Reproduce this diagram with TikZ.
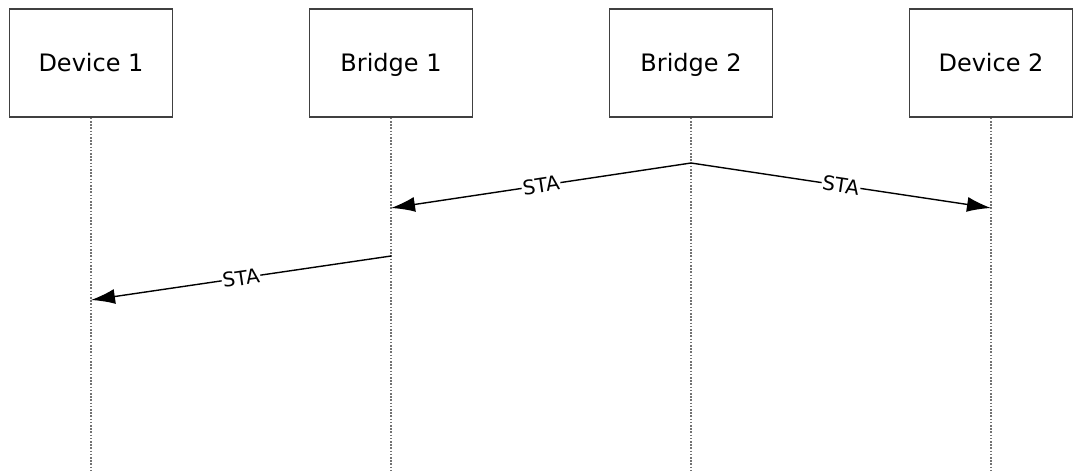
\documentclass[tikz,border=0pt]{standalone}
\usepackage{fontspec}
\setmainfont{DejaVu Sans}
\usetikzlibrary{arrows.meta}

\begin{document}
\begin{tikzpicture}
		[x=1pt,y=-1pt,line cap=round,
		%Styles
		actor/.style={draw=black!75,line width=1.6pt,minimum width=163pt,minimum height=108pt,inner sep=0pt,text height=17pt,text depth=0pt,font=\fontsize{24}{28}\selectfont},
		lifeline/.style={draw=black!55,line width=1.8pt,dash pattern=on 1.6pt off 1.6pt,line cap=butt},
		message/.style={line width=1.4pt,-{Latex[length=24pt,width=15pt]}},
		msg text/.style={fill=white,inner sep=1pt,sloped,font=\fontsize{20}{22}\selectfont}
		]
		
		\useasboundingbox (0,0) rectangle (1077,472);
		
		%The actors
		\node[actor] (dev1) at (91,63) {Device 1};
		\node[actor] (br1) at (391,63) {Bridge 1};
		\node[actor] (br2) at (691,63) {Bridge 2};
		\node[actor] (dev2) at (991,63) {Device 2};
		
		%Lifelines
		\foreach \n in {dev1,br1,br2,dev2}
			\draw[lifeline] (\n.south) -- (\n.south |- 0,472);
		
		%Message points
		\coordinate (br2-out) at (br2.south |- 0,163);
		\coordinate (br1-in) at (br1.south |- 0,208);
		\coordinate (dev2-in) at (dev2.south |- 0,208);
		\coordinate (br1-out) at (br1.south |- 0,256);
		\coordinate (dev1-in) at (dev1.south |- 0,300);
		
		%The messages
		\draw[message] (br2-out) -- node[msg text]{STA} (br1-in);
		\draw[message] (br2-out) -- node[msg text]{STA} (dev2-in);
		\draw[message] (br1-out) -- node[msg text]{STA} (dev1-in);
	\end{tikzpicture}
\end{document}
